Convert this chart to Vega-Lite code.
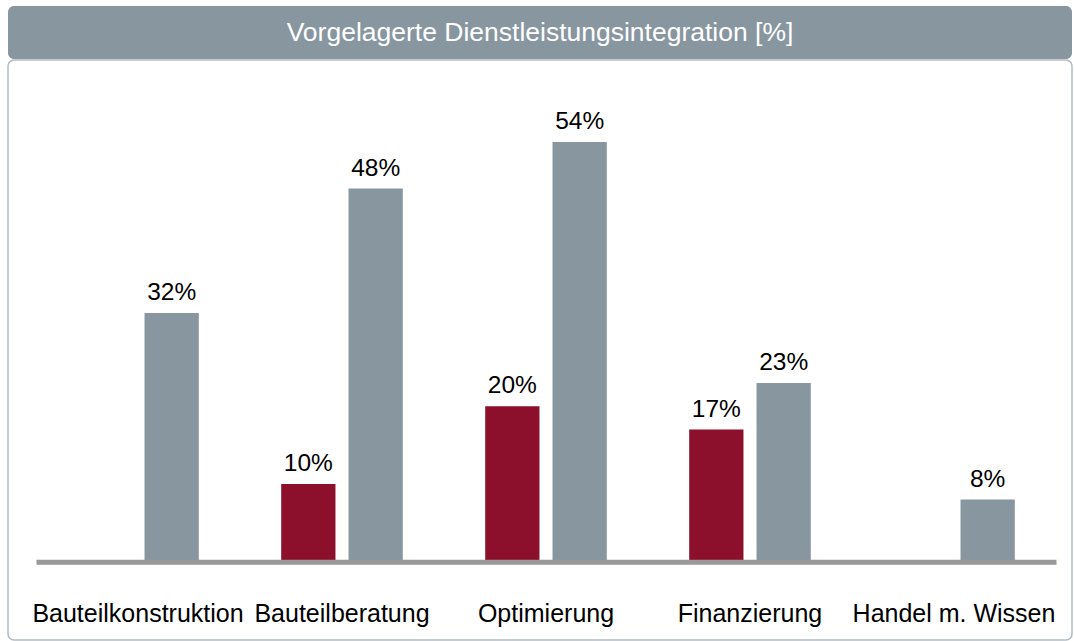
{
  "$schema": "https://vega.github.io/schema/vega-lite/v6.json",
  "padding": {"left": 7, "top": 6, "right": 0, "bottom": 0},
  "background": "white",
  "spacing": 0,
  "config": {
    "font": "Liberation Sans",
    "concat": {"spacing": 0}
  },
  "vconcat": [
    {
      "width": 1064,
      "height": 53,
      "data": {"values": [{"titel": "Vorgelagerte Dienstleistungsintegration [%]"}]},
      "view": {"fill": "#8896a0", "stroke": null, "cornerRadius": 6},
      "mark": {"type": "text", "color": "white", "fontSize": 26.5, "font": "Liberation Sans", "baseline": "middle", "align": "center"},
      "encoding": {"text": {"field": "titel", "type": "nominal"}}
    },
    {
      "width": 1064,
      "height": 580,
      "view": {"stroke": "#b3bcc2", "strokeWidth": 1.5, "cornerRadius": 6},
      "data": {
        "values": [
          {"Kategorie": "Bauteilkonstruktion", "Serie": "Reihe 1", "Wert": null, "Label": ""},
          {"Kategorie": "Bauteilkonstruktion", "Serie": "Reihe 2", "Wert": 32, "Label": "32%"},
          {"Kategorie": "Bauteilberatung", "Serie": "Reihe 1", "Wert": 10, "Label": "10%"},
          {"Kategorie": "Bauteilberatung", "Serie": "Reihe 2", "Wert": 48, "Label": "48%"},
          {"Kategorie": "Optimierung", "Serie": "Reihe 1", "Wert": 20, "Label": "20%"},
          {"Kategorie": "Optimierung", "Serie": "Reihe 2", "Wert": 54, "Label": "54%"},
          {"Kategorie": "Finanzierung", "Serie": "Reihe 1", "Wert": 17, "Label": "17%"},
          {"Kategorie": "Finanzierung", "Serie": "Reihe 2", "Wert": 23, "Label": "23%"},
          {"Kategorie": "Handel m. Wissen", "Serie": "Reihe 1", "Wert": null, "Label": ""},
          {"Kategorie": "Handel m. Wissen", "Serie": "Reihe 2", "Wert": 8, "Label": "8%"}
        ]
      },
      "encoding": {
        "x": {
          "field": "Kategorie",
          "type": "nominal",
          "sort": null,
          "scale": {"range": [28, 1048], "paddingInner": 0, "paddingOuter": 0},
          "axis": {
            "title": null,
            "offset": -78.3,
            "ticks": false,
            "tickSize": 0,
            "domainColor": "#999999",
            "domainWidth": 5,
            "labelAngle": 0,
            "labelFontSize": 25,
            "labelFont": "Liberation Sans",
            "labelColor": "#000000",
            "labelBaseline": "alphabetic",
            "labelPadding": 60,
            "labelLimit": 0,
            "zindex": 1
          }
        },
        "xOffset": {
          "field": "Serie",
          "type": "nominal",
          "scale": {"paddingInner": 0.194, "paddingOuter": 0.612}
        },
        "y": {
          "field": "Wert",
          "type": "quantitative",
          "scale": {"domain": [0, 64.54], "range": [501.7, 0], "nice": false, "zero": true},
          "axis": null
        }
      },
      "layer": [
        {
          "mark": {"type": "bar"},
          "encoding": {
            "color": {
              "field": "Serie",
              "type": "nominal",
              "scale": {"domain": ["Reihe 1", "Reihe 2"], "range": ["#8c0f2b", "#8896a0"]},
              "legend": null
            }
          }
        },
        {
          "mark": {"type": "text", "fontSize": 24.5, "font": "Liberation Sans", "color": "#000000", "baseline": "alphabetic", "dy": -13},
          "encoding": {"text": {"field": "Label", "type": "nominal"}}
        }
      ]
    }
  ]
}
